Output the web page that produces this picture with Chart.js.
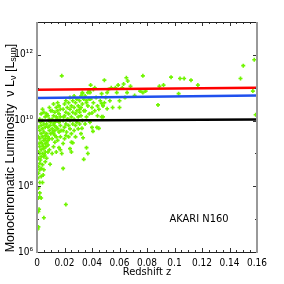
<!DOCTYPE html>
<html>
<head>
<meta charset="utf-8">
<script src="https://cdn.jsdelivr.net/npm/chart.js@4/dist/chart.umd.min.js"></script>
<style>
	html, body { margin: 0; padding: 0; background: #fff; }
	#wrap { width: 284px; height: 284px; }
</style>
</head>
<body>
<div id="wrap"><canvas id="chartDisplay" width="284" height="284"></canvas></div>
<script>
// redshift / luminosity of each source
const redshift = [
	0.0005, 0.001, 0.001, 0.0015, 0.001, 0.003, 0.002, 0.002, 0.001, 0.002, 0.0005, 0.003, 0.001, 0.002, 0.003, 0.001, 0.002, 0.0025,
	0.001, 0.003, 0.002, 0.001, 0.003, 0.002, 0.0015, 0.003, 0.002, 0.001, 0.003, 0.002, 0.001, 0.003, 0.0025, 0.002, 0.003,
	0.005, 0.004, 0.0045, 0.005, 0.004, 0.006, 0.005, 0.004, 0.006, 0.005, 0.004, 0.006, 0.005, 0.004, 0.006, 0.005, 0.004,
	0.006, 0.005, 0.004, 0.006, 0.005, 0.004, 0.006, 0.0045, 0.0055,
	0.0095, 0.008, 0.007, 0.009, 0.008, 0.007, 0.009, 0.008, 0.007, 0.010, 0.009, 0.008, 0.007, 0.010, 0.009, 0.008, 0.007,
	0.010, 0.009, 0.008, 0.0065, 0.0095, 0.0085,
	0.011, 0.012, 0.013, 0.011, 0.014, 0.012, 0.013, 0.011, 0.014, 0.012, 0.013, 0.011, 0.014, 0.012, 0.013, 0.011, 0.014,
	0.012, 0.013, 0.0125, 0.0135, 0.0115,
	0.014, 0.016, 0.015, 0.017, 0.016, 0.015, 0.017, 0.016, 0.015, 0.017, 0.016, 0.015, 0.017, 0.016, 0.015, 0.0175, 0.0165,
	0.018, 0.017,
	0.019, 0.018, 0.021, 0.019, 0.020, 0.021, 0.019, 0.020, 0.021, 0.019, 0.022, 0.020, 0.021, 0.019, 0.022, 0.020, 0.021,
	0.0215, 0.0195,
	0.024, 0.025, 0.023, 0.025, 0.024, 0.023, 0.026, 0.024, 0.025, 0.023, 0.026, 0.024, 0.025, 0.023, 0.026, 0.024, 0.025,
	0.0225, 0.026,
	0.027, 0.028, 0.029, 0.027, 0.030, 0.028, 0.029, 0.027, 0.030, 0.028, 0.029, 0.027, 0.028, 0.030,
	0.034, 0.032, 0.031, 0.033, 0.032, 0.031, 0.034, 0.032, 0.033, 0.031, 0.034, 0.032, 0.033, 0.031, 0.0335, 0.0327,
	0.037, 0.036, 0.035, 0.0385, 0.036, 0.038, 0.035, 0.037, 0.036, 0.038, 0.035, 0.037, 0.038, 0.036, 0.040, 0.0407,
	0.0436, 0.045, 0.047, 0.039, 0.042, 0.033, 0.0385, 0.041, 0.040, 0.044, 0.048, 0.046, 0.040, 0.042, 0.044, 0.043,
	0.045, 0.041, 0.039,
	0.047, 0.049, 0.049, 0.047, 0.051, 0.051, 0.054, 0.055, 0.057, 0.050, 0.053, 0.048, 0.052,
	0.058, 0.059, 0.060, 0.062, 0.063, 0.065, 0.0655, 0.068, 0.060, 0.064, 0.066, 0.071, 0.075,
	0.077, 0.077, 0.079, 0.089, 0.092, 0.088, 0.0975, 0.103, 0.104, 0.107, 0.112, 0.117, 0.148, 0.150, 0.157, 0.158, 0.159
];
const luminosity = [
	5.0e6, 5.8e6, 1.7e7, 2.0e7, 4.4e7, 4.4e7, 6.3e7, 4.7e7, 8.9e7, 1.3e8, 1.8e8, 2.0e8, 2.5e8, 3.2e8, 3.5e8, 4.0e8, 5.0e8, 6.3e8,
	7.1e8, 7.9e8, 1.0e9, 1.1e9, 1.3e9, 1.6e9, 2.0e9, 2.2e9, 2.8e9, 3.2e9, 4.0e9, 5.0e9, 6.3e9, 7.1e9, 8.9e9, 1.1e10, 1.6e10,
	1.1e7, 1.3e8, 2.2e8, 3.2e8, 4.5e8, 5.6e8, 7.9e8, 1.0e9, 1.1e9, 1.4e9, 1.8e9, 2.0e9, 2.5e9, 3.2e9, 3.5e9, 4.5e9, 5.6e9,
	6.3e9, 7.9e9, 1.0e10, 1.3e10, 1.8e10, 2.2e10, 2.8e9, 1.6e9, 8.9e8,
	4.7e8, 1.1e9, 7.1e8, 1.3e9, 1.8e9, 2.2e9, 2.8e9, 3.2e9, 4.0e9, 4.0e9, 5.0e9, 6.3e9, 7.9e9, 8.9e9, 1.1e10, 1.4e10, 1.6e10,
	2.0e10, 2.5e10, 2.5e9, 1.6e9, 7.1e9, 1.0e10,
	1.0e9, 1.6e9, 2.2e9, 2.8e9, 3.2e9, 4.0e9, 5.0e9, 5.6e9, 6.3e9, 7.9e9, 8.9e9, 1.1e10, 1.3e10, 1.4e10, 1.8e10, 2.0e10, 2.5e10,
	3.2e10, 3.5e9, 7.1e9, 1.0e10, 4.5e9,
	1.1e9, 1.5e9, 2.5e9, 3.2e9, 4.5e9, 5.6e9, 7.1e9, 8.9e9, 1.1e10, 1.3e10, 1.6e10, 2.0e10, 2.2e10, 2.8e10, 3.5e10, 5.0e9, 1.0e10,
	2.3e11, 1.3e9,
	3.5e8, 1.0e9, 2.8e7, 2.0e9, 2.8e9, 3.5e9, 5.0e9, 6.3e9, 7.9e9, 1.0e10, 1.1e10, 1.4e10, 1.8e10, 2.2e10, 2.5e10, 3.2e10, 4.0e10,
	4.5e9, 1.3e10,
	1.4e9, 1.1e9, 3.2e9, 4.0e9, 5.6e9, 7.1e9, 7.9e9, 1.0e10, 1.3e10, 1.6e10, 1.8e10, 2.2e10, 2.8e10, 3.5e10, 4.0e10, 5.0e10, 2.2e9,
	1.1e10, 2.1e9,
	5.0e9, 7.1e9, 8.9e9, 1.1e10, 1.3e10, 1.6e10, 2.0e10, 2.5e10, 2.8e10, 3.5e10, 4.5e10, 5.6e10, 3.2e9, 5.6e9,
	6.6e8, 4.0e9, 7.9e9, 1.0e10, 1.4e10, 1.8e10, 2.0e10, 2.5e10, 3.2e10, 4.0e10, 4.5e10, 5.6e10, 7.1e10, 2.2e10, 3.0e9, 5.8e9,
	1.0e9, 1.5e9, 7.9e9, 8.9e9, 1.3e10, 1.6e10, 2.0e10, 2.8e10, 3.5e10, 4.5e10, 5.6e10, 7.1e10, 7.9e10, 4.0e10, 6.2e9, 4.7e9,
	6.2e9, 5.8e9, 1.3e10, 1.2e11, 1.0e11, 6.6e10, 7.1e10, 3.5e10, 1.7e10, 1.4e10, 1.3e10, 4.0e10, 2.5e10, 2.0e10, 2.8e10, 5.0e10,
	2.2e10, 8.9e10, 4.5e10,
	6.6e10, 1.7e11, 3.5e10, 3.3e10, 7.1e10, 2.3e10, 1.0e11, 2.5e10, 1.0e11, 5.0e10, 4.0e10, 2.8e10, 8.9e10,
	7.1e10, 1.2e11, 2.5e10, 1.0e11, 1.3e11, 2.0e11, 7.1e10, 1.1e11, 4.0e10, 5.0e10, 1.6e11, 5.8e10, 7.9e10,
	2.3e11, 7.1e10, 7.9e10, 1.1e11, 1.2e11, 3.0e10, 2.1e11, 6.6e10, 1.9e11, 1.9e11, 1.7e11, 1.2e11, 1.9e11, 4.7e11, 7.9e10, 7.1e11, 1.5e10
];

// the three limit lines (ends at z = 0 and z = 0.16)
const lineZ = [0, 0.16];
const redLine = [8.7e10, 1.0e11];
const blueLine = [4.9e10, 5.8e10];
const blackLine = [1.0e10, 1.07e10];

const xTickValues = [0, 0.02, 0.04, 0.06, 0.08, 0.1, 0.12, 0.14, 0.16];
const xTickLabels = ["0", "0.02", "0.04", "0.06", "0.08", "0.1", "0.12", "0.14", "0.16"];
const yTickValues = [1e6, 1e8, 1e10, 1e12];
const yTickLabels = ["10\u2076", "10\u2078", "10\u00b9\u2070", "10\u00b9\u00b2"];

const FONT = "'Liberation Sans Narrow', 'DejaVu Sans Condensed', 'Liberation Sans', sans-serif";
const TITLE_FONT = "'Liberation Sans', 'DejaVu Sans', sans-serif";

function pairs(xs, ys) {
	var out = [];
	xs.forEach((x, i) => out.push({x: x, y: ys[i]}));
	return out;
}

/**
 * Frame, inward ticks, y title with subscripts and the survey label
 */
const decorPlugin = {
	id: "decor",
	afterDatasetsDraw(chart) {
		const ctx = chart.ctx;
		const a = chart.chartArea;
		const xs = chart.scales.x;
		const ys = chart.scales.y;
		ctx.save();

		// x ticks: major each 0.02, minor each 0.005, top and bottom
		ctx.strokeStyle = "#333";
		ctx.lineWidth = 1;
		for (var k = 0; k <= 32; k++) {
			var px = Math.round(xs.getPixelForValue(k * 0.005)) + 0.5;
			var len = (k % 4 === 0) ? 4 : 2;
			ctx.beginPath();
			ctx.moveTo(px, a.bottom); ctx.lineTo(px, a.bottom - len);
			ctx.moveTo(px, a.top); ctx.lineTo(px, a.top + len);
			ctx.stroke();
		}
		// y ticks at each decade, left and right
		for (var d = 6; d <= 13; d++) {
			var py = Math.round(ys.getPixelForValue(Math.pow(10, d))) + 0.5;
			var l2 = (d % 2 === 0) ? 4 : 2;
			ctx.beginPath();
			ctx.moveTo(a.left, py); ctx.lineTo(a.left + l2, py);
			ctx.moveTo(a.right, py); ctx.lineTo(a.right - l2, py);
			ctx.stroke();
		}

		// frame
		ctx.strokeStyle = "#222";
		ctx.beginPath();
		ctx.moveTo(a.left, a.top + 0.5); ctx.lineTo(a.right, a.top + 0.5);
		ctx.moveTo(a.left, a.bottom + 0.5); ctx.lineTo(a.right, a.bottom + 0.5);
		ctx.stroke();
		ctx.strokeStyle = "#999";
		ctx.lineWidth = 2;
		ctx.beginPath();
		ctx.moveTo(a.left, a.top); ctx.lineTo(a.left, a.bottom + 1);
		ctx.moveTo(a.right, a.top); ctx.lineTo(a.right, a.bottom + 1);
		ctx.stroke();

		// survey label
		ctx.fillStyle = "#000";
		ctx.font = "11px " + FONT;
		ctx.textAlign = "center";
		ctx.textBaseline = "middle";
		ctx.fillText("AKARI N160", 199, 219);

		// x title
		ctx.fillText("Redshift z", 147, 272);

		// y title, rotated, with subscripts
		const parts = [
			{t: "Monochromatic Luminosity  \u03bd L", sub: false},
			{t: "\u03bd", sub: true},
			{t: " [L", sub: false},
			{t: "sun", sub: true},
			{t: "]", sub: false}
		];
		const big = "12.5px " + TITLE_FONT;
		const small = "9px " + TITLE_FONT;
		var total = 0;
		parts.forEach(p => {
			ctx.font = p.sub ? small : big;
			p.w = ctx.measureText(p.t).width;
			total += p.w;
		});
		ctx.translate(11, 148);
		ctx.rotate(-Math.PI / 2);
		ctx.textAlign = "left";
		var cx = -total / 2;
		parts.forEach(p => {
			ctx.font = p.sub ? small : big;
			ctx.fillText(p.t, cx, p.sub ? 3 : 0);
			cx += p.w;
		});
		ctx.restore();
	}
};

function createChart() {
	const el = document.getElementById("chartDisplay");
	new Chart(el, {
		type: "scatter",
		data: {
			datasets: [{
				type: "line",
				data: pairs(lineZ, redLine),
				borderColor: "#ff0000",
				borderWidth: 2.5,
				pointRadius: 0
			},
			{
				type: "line",
				data: pairs(lineZ, blueLine),
				borderColor: "#2050ee",
				borderWidth: 2.5,
				pointRadius: 0
			},
			{
				type: "line",
				data: pairs(lineZ, blackLine),
				borderColor: "#000000",
				borderWidth: 2.5,
				pointRadius: 0
			},
			{
				data: pairs(redshift, luminosity),
				pointStyle: "cross",
				pointRadius: 2,
				borderWidth: 1.6,
				borderColor: "#70f500",
				backgroundColor: "#70f500"
			}]
		},
		options: {
			responsive: false,
			animation: false,
			devicePixelRatio: 1,
			layout: { padding: { left: 0, top: 22, right: 27, bottom: 0 } },
			plugins: { legend: { display: false }, tooltip: { enabled: false } },
			scales: {
				x: {
					type: "linear",
					min: 0,
					max: 0.16,
					grid: { display: false, drawTicks: false },
					border: { display: false },
					afterFit: s => { s.height = 32; },
					afterBuildTicks: s => { s.ticks = xTickValues.map(v => ({value: v})); },
					ticks: {
						padding: 5,
						color: "#000",
						font: { family: FONT, size: 10 },
						maxRotation: 0,
						callback: (v, i) => xTickLabels[i]
					}
				},
				y: {
					type: "logarithmic",
					min: 1e6,
					max: 1e13,
					grid: { display: false, drawTicks: false },
					border: { display: false },
					afterFit: s => { s.width = 37; },
					afterBuildTicks: s => { s.ticks = yTickValues.map(v => ({value: v})); },
					ticks: {
						padding: 4,
						color: "#000",
						font: { family: FONT, size: 10 },
						callback: (v, i) => yTickLabels[i]
					}
				}
			}
		},
		plugins: [decorPlugin]
	});
}

createChart();
</script>
</body>
</html>
